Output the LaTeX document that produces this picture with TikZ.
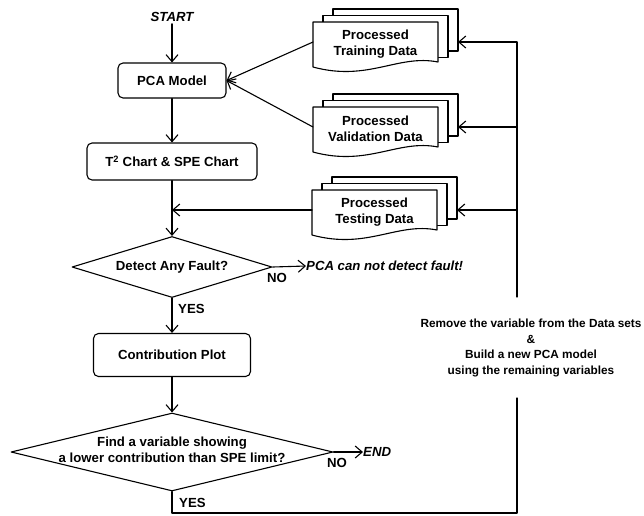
\documentclass[tikz,border=0pt]{standalone}
\usepackage{fontspec}
\setmainfont{Liberation Sans}
\usetikzlibrary{arrows.meta,shapes.geometric}
\tikzset{
  ln/.style={line width=1.1pt, line cap=round, line join=round},
  arr/.style={ln, -{Straight Barb[length=7pt,width=12pt,line width=1.1pt]}},
  txt/.style={font=\fontsize{13.2}{16}\selectfont\bfseries, inner sep=0pt, align=center},
  itxt/.style={font=\fontsize{13.2}{16}\selectfont\bfseries\itshape, inner sep=0pt},
  boxnode/.style={txt, ln, draw, rounded corners=5pt, fill=white},
  diam/.style={ln, draw, diamond, inner sep=0pt, fill=white},
  doctext/.style={txt, minimum width=125pt, minimum height=10pt},
  remtext/.style={font=\fontsize{11.8}{15.7}\selectfont\bfseries, inner sep=0pt, align=center}
}
\newcommand\docstack[4]{%
  \draw[ln, fill=white] (#2+20,#3-13) rectangle ++(125,42);
  \draw[ln, fill=white] (#2+10,#3-6.5) rectangle ++(125,42);
  \draw[ln, fill=white] (#2,#3+45) -- (#2,#3) -- (#2+125,#3) -- (#2+125,#3+40)
     .. controls (#2+85,#3+32) and (#2+55,#3+60) .. (#2,#3+45) -- cycle;
  \node[doctext] (#1) at (#2+62.5,#3+22) {#4};
  \coordinate (#1l) at (#2,#3+20);
  \coordinate (#1r) at (#2+145,#3+20);
}
\begin{document}
\begin{tikzpicture}[x=1pt,y=-1pt]
\useasboundingbox (0,0) rectangle (644,515);

% document stacks
\docstack{train}{313}{22}{Processed\\Training Data}
\docstack{val}{313}{107}{Processed\\Validation Data}
\docstack{test}{312}{190}{Processed\\Testing Data}

% main column
\node[itxt] (start) at (172,17) {START};
\node[boxnode, minimum width=108pt, minimum height=35pt] (pca) at (172,80.5) {PCA Model};
\node[boxnode, minimum width=170pt, minimum height=37pt] (t2) at (172,161.5) {T\textsuperscript{2} Chart \& SPE Chart};
\node[diam, minimum width=200pt, minimum height=61pt] (d1) at (172,267) {};
\node[txt] (d1t) at (d1.center) {Detect Any Fault?};
\node[boxnode, minimum width=157pt, minimum height=43pt] (contrib) at (172,355) {Contribution Plot};
\node[diam, minimum width=322pt, minimum height=78pt] (d2) at (172,452) {};
\node[txt] (d2t) at (172,450) {Find a variable showing\\a lower contribution than SPE limit?};

\node[txt] (no1) at (277,278) {NO};
\node[txt, anchor=west] (yes1) at (178,309) {YES};
\node[itxt, anchor=west] (nofault) at (306,266) {PCA can not detect fault!};
\node[txt] (no2) at (337,463) {NO};
\node[txt, anchor=west] (yes2) at (179,503) {YES};
\node[itxt, anchor=west] (end) at (363,452) {END};

\node[remtext] (rem) at (531,348) {Remove the variable from the Data sets\\\&\\Build a new PCA model\\using the remaining variables};

% connectors
\coordinate (tj) at (t2.south |- testl);
\draw[arr] (start.south) ++(0,2) -- (pca.north);
\draw[arr] (pca.south) -- (t2.north);
\draw[arr] (t2.south) -- (d1.north);
\draw[arr] (d1.south) -- (contrib.north);
\draw[arr] (contrib.south) -- (d2.north);
\draw[arr] (d1.east) -- (nofault.west);
\draw[arr] (d2.east) -- (end.west);
\draw[arr] (trainl) -- (pca.east);
\draw[arr] (vall) -- (pca.east);
\draw[arr] (testl) -- (tj);

% feedback loop
\coordinate (bl) at (172,513);
\coordinate (br) at (517,513);
\coordinate (lb) at (517,398);
\coordinate (lt) at (517,297);
\draw[ln] (d2.south) -- (bl) -- (br) -- (lb);
\draw[arr] (lt) |- (trainr);
\draw[arr] (lt |- valr) -- (valr);
\draw[arr] (lt |- testr) -- (testr);
\end{tikzpicture}
\end{document}
